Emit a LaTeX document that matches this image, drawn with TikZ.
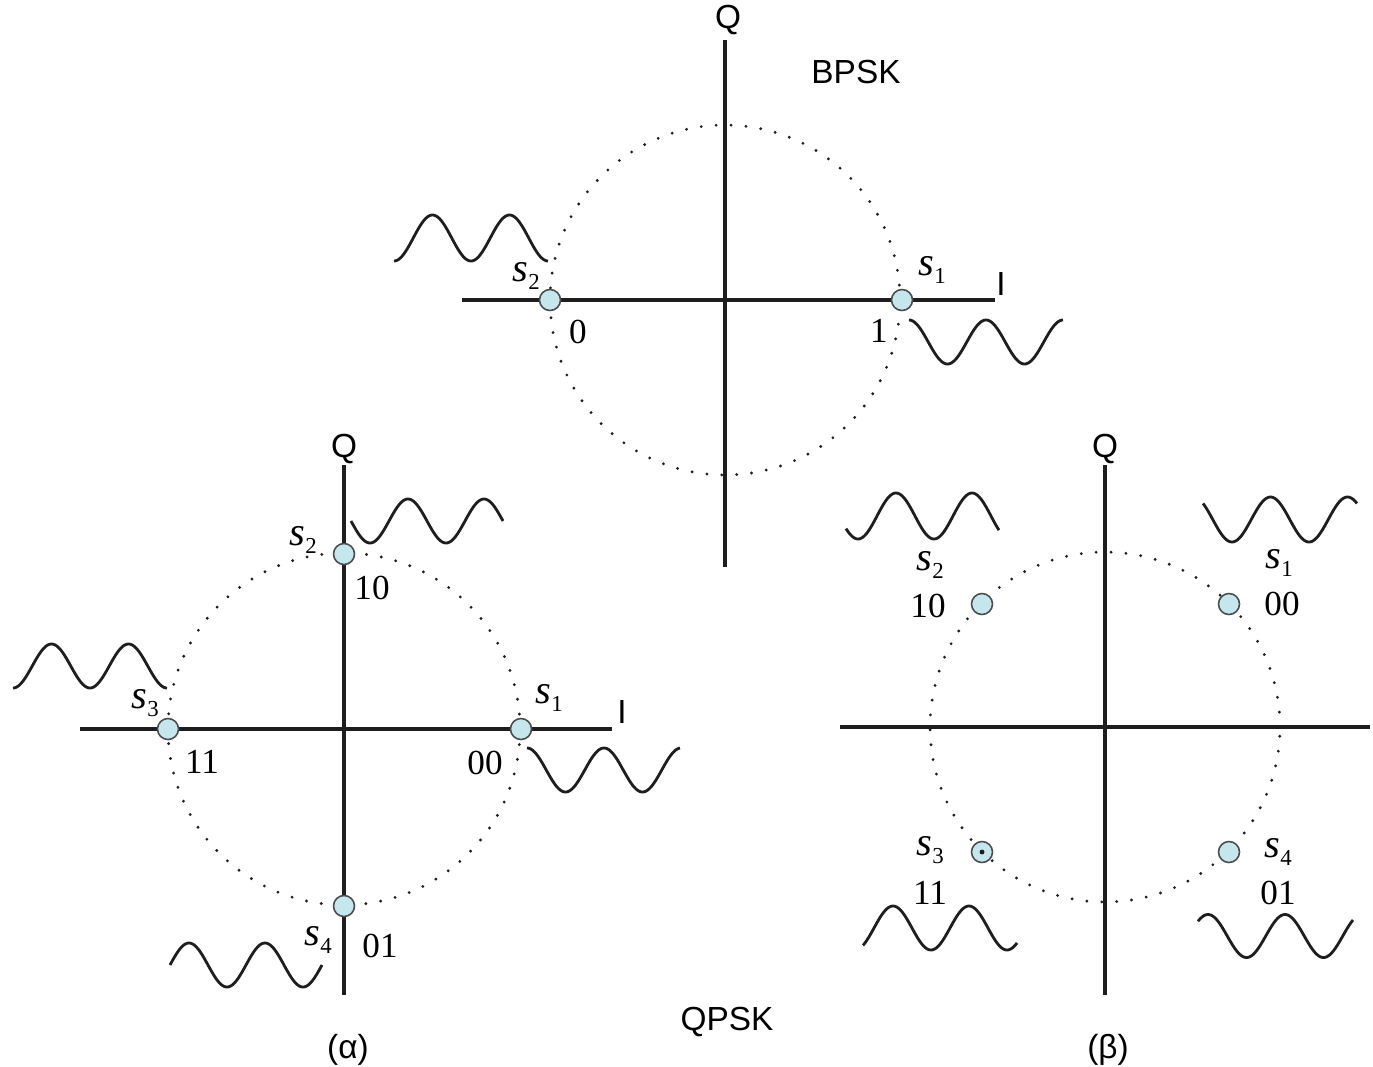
\documentclass[tikz,border=0pt]{standalone}
\usepackage{fontspec}
\setmainfont{Liberation Serif}
\newfontfamily\arialf{Liberation Sans}
\newcommand{\sym}[1]{{\fontsize{23}{23}\selectfont\textit{s}}\kern0.3pt\raisebox{-0.5ex}{\fontsize{13}{13}\selectfont #1}}
\definecolor{ptfill}{RGB}{197,230,236}
\definecolor{ink}{RGB}{30,30,30}
\begin{document}
\begin{tikzpicture}[x={(0.02cm,0)},y={(0,-0.02cm)},
  axis/.style={line width=2.2pt, ink},
  ring/.style={line width=1.8pt, ink, dash pattern=on 0pt off 8.5pt, line cap=round},
  wave/.style={line width=1.6pt, ink, smooth},
  pt/.style={circle, draw=black!70, fill=ptfill, line width=0.9pt, minimum size=0.42cm, inner sep=0pt},
  lbl/.style={font=\fontsize{20}{20}\selectfont, inner sep=0pt},
  sans/.style={font=\arialf\fontsize{19}{19}\selectfont, inner sep=0pt}]
\useasboundingbox (0,0) rectangle (1373,1066);

% ===== BPSK =====
\coordinate (bc) at (725,300);
\coordinate (bqt) at (725,40); \coordinate (bqb) at (725,567);
\coordinate (bil) at (462,300); \coordinate (bir) at (995,300);
\draw[axis] (bqt) -- (bqb);
\draw[axis] (bil) -- (bir);
\draw[ring] (bc) circle[radius=3.5cm];
\node[pt] (b1) at (902,300) {};
\node[pt] (b2) at (550,300) {};
\node[sans] (bQ) at (728,20) {Q};
\node[sans] (bI) at (1001,284) {I};
\node[sans] (bt) at (856,72) {BPSK};
\node[lbl] (bs2) at (526,276) {\sym{2}};
\node[lbl] (bs1) at (932,270) {\sym{1}};
\node[lbl] (b0) at (578,332) {0};
\node[lbl] (b1l) at (879,331) {1};
\draw[wave] plot[domain=394:548, samples=120] (\x, {238 + 23*cos((\x-394)*4.6753)});
\draw[wave] plot[domain=909:1063, samples=120] (\x, {342 - 22*cos((\x-909)*4.6753)});

% ===== QPSK (alpha) =====
\coordinate (ac) at (344,729);
\coordinate (aqt) at (344,465); \coordinate (aqb) at (344,995);
\coordinate (ail) at (80,729); \coordinate (air) at (612,729);
\draw[axis] (aqt) -- (aqb);
\draw[axis] (ail) -- (air);
\draw[ring] (ac) circle[radius=3.52cm];
\node[pt] (a1) at (521,729) {};
\node[pt] (a2) at (344,554) {};
\node[pt] (a3) at (168,729) {};
\node[pt] (a4) at (344,906) {};
\node[sans] (aQ) at (344,449) {Q};
\node[sans] (aI) at (622,712) {I};
\node[lbl] (as2) at (303,540) {\sym{2}};
\node[lbl] (a10) at (372,588) {10};
\node[lbl] (as3) at (145,703) {\sym{3}};
\node[lbl] (a11) at (202,762) {11};
\node[lbl] (as1) at (549,698) {\sym{1}};
\node[lbl] (a00) at (485,763) {00};
\node[lbl] (as4) at (318,940) {\sym{4}};
\node[lbl] (a01) at (380,946) {01};
\draw[wave] plot[domain=351:503, samples=120] (\x, {521 + 22*sin((\x-351)*4.7368)});
\draw[wave] plot[domain=13:167, samples=120] (\x, {666 + 22*cos((\x-13)*4.6753)});
\draw[wave] plot[domain=527:680, samples=120] (\x, {770 - 22*cos((\x-527)*4.6753)});
\draw[wave] plot[domain=170:322, samples=120] (\x, {965 - 22*sin((\x-170)*4.7368)});

% ===== QPSK (beta) =====
\coordinate (gc) at (1105,727);
\coordinate (gqt) at (1105,465); \coordinate (gqb) at (1105,995);
\coordinate (gil) at (840,727); \coordinate (gir) at (1370,727);
\draw[axis] (gqt) -- (gqb);
\draw[axis] (gil) -- (gir);
\draw[ring] (gc) circle[radius=3.5cm];
\node[pt] (g1) at (1229,604) {};
\node[pt] (g2) at (982,604) {};
\node[pt] (g3) at (982,852) {};
\node[pt] (g4) at (1229,852) {};
\fill[ink] (g3.center) circle[radius=1.4pt];
\node[sans] (gQ) at (1105,449) {Q};
\node[lbl] (gs2) at (930,565) {\sym{2}};
\node[lbl] (g10) at (928,606) {10};
\node[lbl] (gs1) at (1279,563) {\sym{1}};
\node[lbl] (g00) at (1282,604) {00};
\node[lbl] (gs3) at (930,850) {\sym{3}};
\node[lbl] (g11) at (930,893) {11};
\node[lbl] (gs4) at (1278,852) {\sym{4}};
\node[lbl] (g01) at (1278,893) {01};
\draw[wave] plot[domain=846:999, samples=120] (\x, {516 + 23*cos((\x-858)*4.7368)});
\draw[wave] plot[domain=1203:1357, samples=120] (\x, {519.5 + 22.5*cos((\x-1232)*4.6753)});
\draw[wave] plot[domain=863:1017, samples=120] (\x, {928 - 22*cos((\x-893)*4.7368)});
\draw[wave] plot[domain=1198:1353, samples=120] (\x, {936 - 21.5*cos((\x-1208)*4.6753)});

% ===== captions =====
\node[sans] (capa) at (348,1050) {(α)};
\node[sans] (capq) at (727,1022) {QPSK};
\node[sans] (capb) at (1108,1050) {(β)};
\end{tikzpicture}
\end{document}
